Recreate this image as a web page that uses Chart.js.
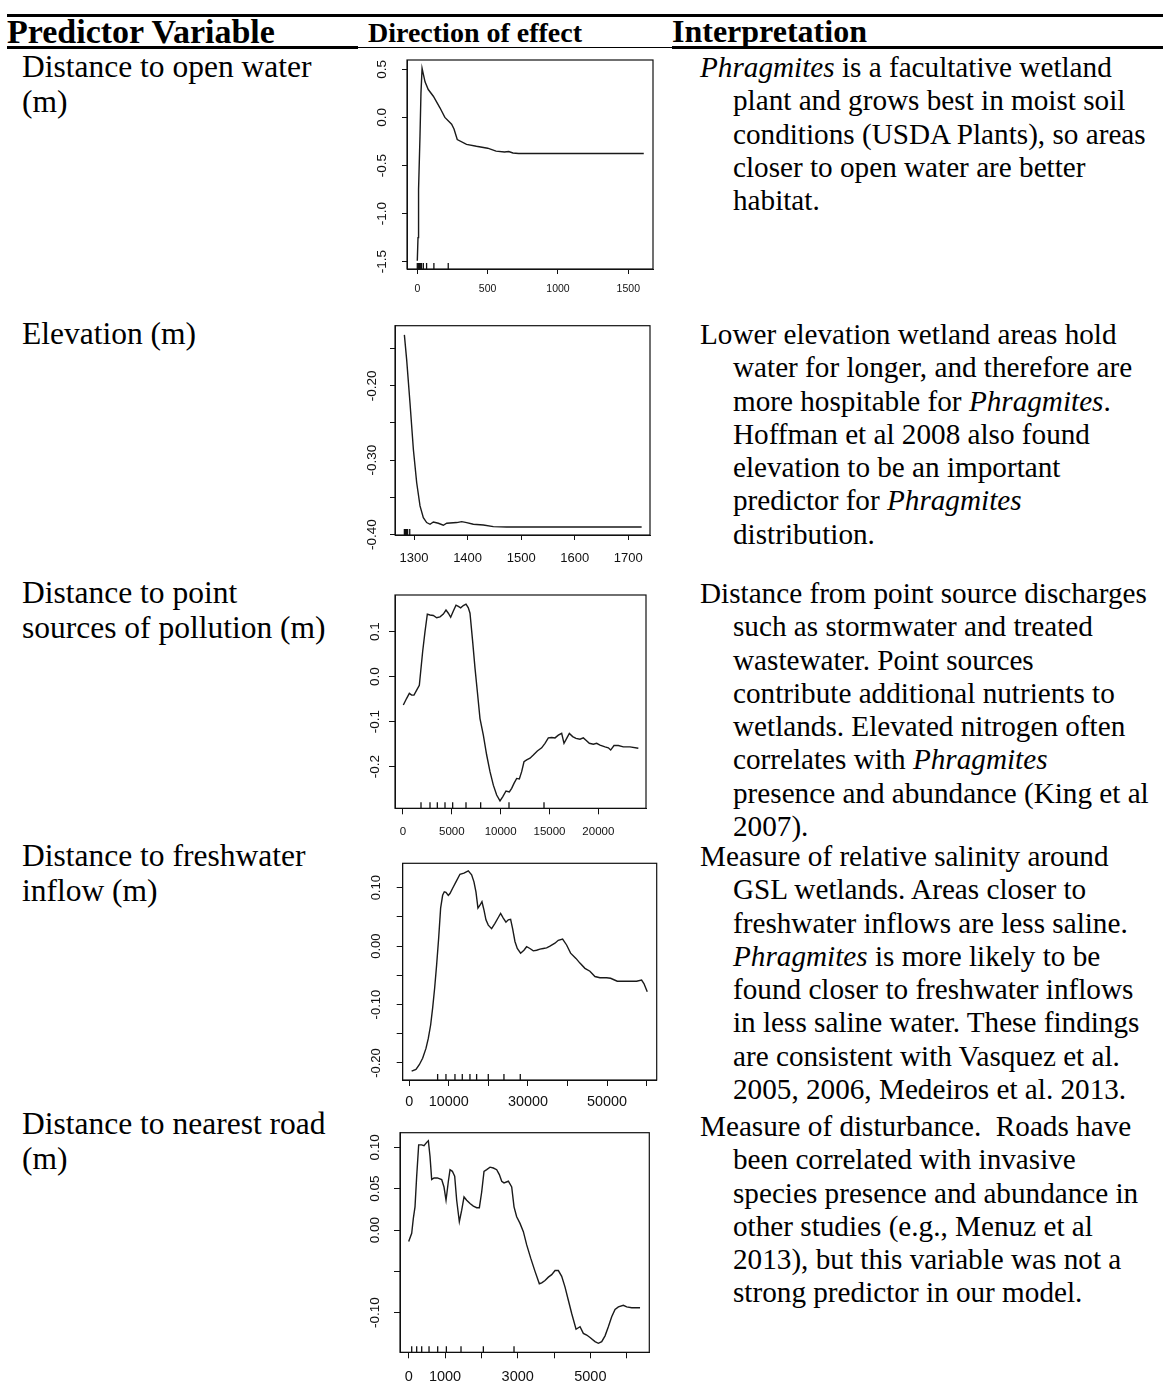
<!DOCTYPE html>
<html>
<head>
<meta charset="utf-8">
<script src="https://cdn.jsdelivr.net/npm/chart.js@4.4.1/dist/chart.umd.min.js"></script>
<style>
html, body { margin: 0; padding: 0; background: #fff; }
#page { position: relative; width: 1163px; height: 1384px; overflow: hidden;
        font-family: "Liberation Serif", "Times New Roman", serif; color: #000; }
.abs { position: absolute; white-space: nowrap; }
.hd { font-weight: bold; line-height: 1; }
.var { left: 22px; font-size: 31.5px; line-height: 34.5px; }
.txt { left: 700px; font-size: 29.2px; line-height: 33.3px; padding-left: 33px; text-indent: -33px; }
.rule { position: absolute; background: #000; }
canvas { position: absolute; }
</style>
</head>
<body>
<div id="page">
  <div class="rule" style="left:7px;top:14px;width:1156px;height:3px;"></div>
  <div class="abs hd" style="left:7px;top:15px;font-size:34px;">Predictor Variable</div>
  <div class="abs hd" style="left:368px;top:19px;font-size:28px;">Direction of effect</div>
  <div class="abs hd" style="left:672px;top:15px;font-size:32px;">Interpretation</div>
  <div class="rule" style="left:7px;top:46px;width:351px;height:3px;"></div>
  <div class="rule" style="left:358px;top:47px;width:314px;height:1px;"></div>
  <div class="rule" style="left:672px;top:46px;width:491px;height:3px;"></div>

  <div class="abs var" style="top:50px;">Distance to open water<br>(m)</div>
  <div class="abs var" style="top:317px;">Elevation (m)</div>
  <div class="abs var" style="top:576px;">Distance to point<br>sources of pollution (m)</div>
  <div class="abs var" style="top:839px;">Distance to freshwater<br>inflow (m)</div>
  <div class="abs var" style="top:1107px;">Distance to nearest road<br>(m)</div>

  <div class="abs txt" style="top:51px;"><i>Phragmites</i> is a facultative wetland<br>plant and grows best in moist soil<br>conditions (USDA Plants), so areas<br>closer to open water are better<br>habitat.</div>
  <div class="abs txt" style="top:318px;">Lower elevation wetland areas hold<br>water for longer, and therefore are<br>more hospitable for <i>Phragmites</i>.<br>Hoffman et al 2008 also found<br>elevation to be an important<br>predictor for <i>Phragmites</i><br>distribution.</div>
  <div class="abs txt" style="top:577px;">Distance from point source discharges<br>such as stormwater and treated<br>wastewater. Point sources<br>contribute additional nutrients to<br>wetlands. Elevated nitrogen often<br>correlates with <i>Phragmites</i><br>presence and abundance (King et al<br>2007).</div>
  <div class="abs txt" style="top:840px;">Measure of relative salinity around<br>GSL wetlands. Areas closer to<br>freshwater inflows are less saline.<br><i>Phragmites</i> is more likely to be<br>found closer to freshwater inflows<br>in less saline water. These findings<br>are consistent with Vasquez et al.<br>2005, 2006, Medeiros et al. 2013.</div>
  <div class="abs txt" style="top:1110px;">Measure of disturbance.&nbsp; Roads have<br>been correlated with invasive<br>species presence and abundance in<br>other studies (e.g., Menuz et al<br>2013), but this variable was not a<br>strong predictor in our model.</div>

  <canvas id="c-water"></canvas>
  <canvas id="c-elev"></canvas>
  <canvas id="c-point"></canvas>
  <canvas id="c-fresh"></canvas>
  <canvas id="c-road"></canvas>
</div>

<script>
// --- distance to open water (m)
const waterX = [0, 5, 9, 19, 26, 34, 55, 78, 114, 161, 196, 244, 261, 284, 350, 420, 500, 560, 620, 650, 680, 720, 1610];
const waterY = [-1.49, -1.25, -0.75, -0.20, 0.25, 0.51, 0.37, 0.29, 0.22, 0.10, 0.00, -0.07, -0.12, -0.23, -0.28, -0.30, -0.32, -0.35, -0.36, -0.355, -0.37, -0.375, -0.375];
const waterRug = [0, 5, 10, 15, 20, 25, 30, 43, 66, 118, 220];
const waterXTicks = [0, 500, 1000, 1500];
const waterXLabels = ['0', '500', '1000', '1500'];
const waterYTicks = [-1.5, -1.0, -0.5, 0.0, 0.5];
const waterYLabels = ['-1.5', '-1.0', '-0.5', '0.0', '0.5'];

// --- elevation (m)
const elevX = [1282, 1286.3, 1292.5, 1298.8, 1305, 1311.2, 1317.4, 1323.6, 1329.9, 1336.1, 1345.4, 1354.7, 1361, 1379.6, 1389, 1398.3, 1410.7, 1429.4, 1448.1, 1472.9, 1724.9];
const elevY = [-0.1317, -0.1652, -0.2232, -0.2857, -0.3303, -0.3615, -0.3772, -0.3838, -0.3861, -0.3830, -0.3847, -0.3874, -0.3847, -0.3838, -0.3825, -0.3838, -0.3861, -0.3870, -0.3892, -0.3897, -0.3897];
const elevRug = [1282, 1284, 1286, 1288, 1292];
const elevXTicks = [1300, 1400, 1500, 1600, 1700];
const elevXLabels = ['1300', '1400', '1500', '1600', '1700'];
const elevYTicks = [-0.40, -0.35, -0.30, -0.25, -0.20, -0.15];
const elevYLabels = ['-0.40', '', '-0.30', '', '-0.20', ''];

// --- distance to point sources of pollution (m)
const pointX = [34, 375, 648, 887, 1126, 1399, 1672, 1809, 2014, 2253, 2491, 2765, 3106, 3447, 3788, 4130, 4403, 4642, 4881, 5154, 5427, 5666, 5904, 6177, 6451, 6689, 6860, 7133, 7372, 7611, 7884, 8225, 8567, 8908, 9249, 9590, 9932, 10205, 10546, 10887, 11126, 11365, 11638, 11911, 12150, 12389, 12662, 13003, 13345, 13754, 14198, 14539, 14881, 15222, 15563, 15904, 16246, 16485, 16758, 17031, 17372, 17713, 18123, 18464, 18737, 19078, 19488, 19829, 20171, 20683, 21024, 21263, 21604, 22048, 22560, 23242, 24096];
const pointY = [-0.063, -0.048, -0.037, -0.041, -0.041, -0.030, -0.019, 0.011, 0.056, 0.100, 0.139, 0.137, 0.136, 0.131, 0.133, 0.139, 0.148, 0.141, 0.132, 0.146, 0.159, 0.156, 0.153, 0.158, 0.161, 0.153, 0.141, 0.078, 0.019, -0.033, -0.093, -0.130, -0.174, -0.211, -0.241, -0.263, -0.276, -0.267, -0.254, -0.256, -0.248, -0.237, -0.226, -0.227, -0.211, -0.189, -0.185, -0.181, -0.174, -0.165, -0.158, -0.148, -0.136, -0.135, -0.136, -0.130, -0.126, -0.148, -0.137, -0.126, -0.133, -0.137, -0.139, -0.136, -0.141, -0.148, -0.150, -0.148, -0.152, -0.156, -0.158, -0.163, -0.153, -0.153, -0.156, -0.156, -0.159];
const pointRug = [1843, 2765, 3515, 4300, 5085, 6450, 7952, 10853, 14437];
const pointXTicks = [0, 5000, 10000, 15000, 20000];
const pointXLabels = ['0', '5000', '10000', '15000', '20000'];
const pointYTicks = [-0.2, -0.1, 0.0, 0.1];
const pointYLabels = ['-0.2', '-0.1', '0.0', '0.1'];

// --- distance to freshwater inflow (m)
const freshX = [590, 1685, 2527, 3370, 4212, 4802, 5392, 5897, 6403, 6908, 7414, 7919, 8425, 8846, 9267, 9857, 10278, 10952, 11795, 12805, 13816, 14912, 15754, 16344, 16849, 17355, 17860, 18366, 18871, 19377, 19966, 20809, 21651, 22494, 23083, 23757, 24431, 25021, 25611, 26116, 26706, 27296, 28138, 28981, 29655, 30497, 31340, 32182, 33024, 33867, 34709, 35552, 36816, 37658, 38753, 39764, 40775, 42123, 43134, 44398, 45661, 46925, 48189, 49874, 50885, 52570, 54928, 57456, 58720, 59309, 60152];
const freshY = [-0.214, -0.211, -0.203, -0.192, -0.175, -0.158, -0.135, -0.106, -0.072, -0.032, 0.013, 0.065, 0.087, 0.093, 0.092, 0.087, 0.090, 0.099, 0.110, 0.123, 0.125, 0.129, 0.122, 0.110, 0.093, 0.065, 0.070, 0.076, 0.062, 0.045, 0.036, 0.030, 0.039, 0.049, 0.056, 0.048, 0.041, 0.045, 0.046, 0.030, 0.008, -0.004, -0.012, -0.007, -0.001, -0.004, -0.008, -0.007, -0.005, -0.004, -0.003, 0.000, 0.005, 0.010, 0.012, 0.002, -0.012, -0.021, -0.029, -0.038, -0.043, -0.052, -0.054, -0.054, -0.055, -0.060, -0.060, -0.060, -0.058, -0.064, -0.078];
const freshRug = [7161, 9267, 11542, 13395, 15333, 17018, 19966, 23926, 28054];
const freshXTicks = [0, 10000, 20000, 30000, 40000, 50000, 60000];
const freshXLabels = ['0', '10000', '', '30000', '', '50000', ''];
const freshYTicks = [-0.20, -0.15, -0.10, -0.05, 0.00, 0.05, 0.10];
const freshYLabels = ['-0.20', '', '-0.10', '', '0.00', '', '0.10'];

// --- distance to nearest road (m)
const roadX = [0, 83, 128, 174, 220, 275, 358, 422, 495, 541, 587, 633, 697, 789, 908, 972, 1028, 1092, 1138, 1202, 1266, 1321, 1394, 1459, 1523, 1596, 1688, 1780, 1872, 1945, 2009, 2073, 2147, 2239, 2330, 2422, 2495, 2560, 2624, 2743, 2835, 2899, 2972, 3064, 3156, 3248, 3358, 3477, 3596, 3661, 3752, 3844, 3936, 4028, 4119, 4211, 4303, 4394, 4486, 4606, 4716, 4807, 4899, 4991, 5128, 5220, 5312, 5404, 5495, 5587, 5679, 5771, 5908, 6000, 6138, 6367];
const roadY = [-0.014, -0.004, 0.014, 0.028, 0.065, 0.103, 0.103, 0.102, 0.106, 0.108, 0.089, 0.061, 0.063, 0.063, 0.061, 0.052, 0.036, 0.059, 0.073, 0.071, 0.065, 0.036, 0.010, 0.024, 0.040, 0.036, 0.032, 0.029, 0.027, 0.027, 0.046, 0.071, 0.073, 0.076, 0.075, 0.073, 0.067, 0.059, 0.057, 0.059, 0.052, 0.028, 0.016, 0.008, -0.002, -0.018, -0.034, -0.050, -0.065, -0.064, -0.061, -0.057, -0.054, -0.049, -0.049, -0.056, -0.069, -0.085, -0.101, -0.120, -0.117, -0.125, -0.127, -0.130, -0.135, -0.137, -0.135, -0.128, -0.117, -0.105, -0.096, -0.093, -0.091, -0.093, -0.094, -0.094];
const roadRug = [83, 220, 358, 560, 798, 1037, 1440, 2055, 2899];
const roadXTicks = [0, 1000, 2000, 3000, 4000, 5000, 6000];
const roadXLabels = ['0', '1000', '', '3000', '', '5000', ''];
const roadYTicks = [-0.10, -0.05, 0.00, 0.05, 0.10];
const roadYLabels = ['-0.10', '', '0.00', '0.05', '0.10'];

const TICK_FONT = "'Liberation Sans', Arial, sans-serif";

// frame around the plot region, like R's box()
const plotBox = {
    id: 'plotBox',
    afterDraw(chart) {
        const a = chart.chartArea;
        const ctx = chart.ctx;
        ctx.save();
        ctx.strokeStyle = '#111';
        ctx.lineWidth = 1.2;
        ctx.strokeRect(a.left, a.top, a.right - a.left, a.bottom - a.top);
        ctx.restore();
    }
};

function textWidth(labels, size) {
    let c = document.createElement('canvas').getContext('2d');
    c.font = size + 'px ' + TICK_FONT;
    return Math.max.apply(null, labels.map(l => c.measureText(l).width));
}

function drawPanel(id, p) {
    let canvas = document.getElementById(id);
    let box = p.box;
    let L = Math.round(box[0]) - 48;
    let T = Math.round(box[1]) - 28;
    let W = Math.ceil(box[2] - L + 30);
    let H = Math.ceil(box[3] - T + 38);
    canvas.width = W;
    canvas.height = H;
    canvas.style.left = L + 'px';
    canvas.style.top = T + 'px';
    canvas.style.width = W + 'px';
    canvas.style.height = H + 'px';

    let xPad = p.xOff - p.tick - p.xFont * 1.2 / 2;
    let yPad = p.yOff - p.tick - textWidth(p.yLabels, p.yFont) / 2;

    let axisGrid = {drawOnChartArea: false, drawTicks: true, tickLength: p.tick, color: '#111', lineWidth: 1};

    return new Chart(canvas.getContext('2d'), {
        type: 'scatter',
        data: {
            datasets: [{
                data: p.xs.map((x, i) => ({x: x, y: p.ys[i]})),
                showLine: true,
                borderColor: '#1a1a1a',
                borderWidth: 1.4,
                pointRadius: 0,
                tension: 0
            }, {
                data: p.rug.map(x => ({x: x, y: p.ylim[0]})),
                showLine: false,
                pointStyle: 'line',
                rotation: 90,
                pointRadius: 6,
                pointBorderWidth: 1.3,
                pointBorderColor: '#111',
                borderColor: '#111',
                clip: 0
            }]
        },
        options: {
            responsive: false,
            animation: false,
            devicePixelRatio: 1,
            layout: {padding: {left: 0, top: box[1] - T, right: L + W - box[2], bottom: 0}},
            plugins: {legend: {display: false}, tooltip: {enabled: false}},
            scales: {
                x: {
                    type: 'linear',
                    min: p.xlim[0],
                    max: p.xlim[1],
                    afterBuildTicks: s => { s.ticks = p.xTicks.map(v => ({value: v})); },
                    afterFit: s => { s.height = T + H - box[3]; },
                    grid: axisGrid,
                    border: {display: true, color: '#111'},
                    ticks: {
                        autoSkip: false, minRotation: 0, maxRotation: 0, padding: xPad,
                        color: '#111', font: {family: TICK_FONT, size: p.xFont},
                        callback: (v, i) => p.xLabels[i]
                    }
                },
                y: {
                    type: 'linear',
                    min: p.ylim[0],
                    max: p.ylim[1],
                    afterBuildTicks: s => { s.ticks = p.yTicks.map(v => ({value: v})); },
                    afterFit: s => { s.width = box[0] - L; },
                    grid: axisGrid,
                    border: {display: true, color: '#111'},
                    ticks: {
                        autoSkip: false, minRotation: 90, maxRotation: 90, crossAlign: 'center', padding: yPad,
                        color: '#111', font: {family: TICK_FONT, size: p.yFont},
                        callback: (v, i) => p.yLabels[i]
                    }
                }
            }
        },
        plugins: [plotBox]
    });
}

drawPanel('c-water', {
    box: [407, 60, 653, 269], xlim: [-73.2, 1675.6], ylim: [-1.576, 0.597],
    xs: waterX, ys: waterY, rug: waterRug,
    xTicks: waterXTicks, xLabels: waterXLabels, yTicks: waterYTicks, yLabels: waterYLabels,
    tick: 5, xFont: 10.5, yFont: 13.5, xOff: 20, yOff: 25
});

drawPanel('c-elev', {
    box: [395, 325.7, 650, 535], xlim: [1264.5, 1740.5], ylim: [-0.4005, -0.1193],
    xs: elevX, ys: elevY, rug: elevRug,
    xTicks: elevXTicks, xLabels: elevXLabels, yTicks: elevYTicks, yLabels: elevYLabels,
    tick: 5, xFont: 13, yFont: 13.5, xOff: 23, yOff: 23
});

drawPanel('c-point', {
    box: [395, 595, 646, 808.3], xlim: [-819, 24880], ylim: [-0.2924, 0.1815],
    xs: pointX, ys: pointY, rug: pointRug,
    xTicks: pointXTicks, xLabels: pointXLabels, yTicks: pointYTicks, yLabels: pointYLabels,
    tick: 6, xFont: 11.5, yFont: 13.5, xOff: 24, yOff: 20
});

drawPanel('c-fresh', {
    box: [402.7, 863.3, 656.7, 1080], xlim: [-1669, 62540], ylim: [-0.2291, 0.1418],
    xs: freshX, ys: freshY, rug: freshRug,
    xTicks: freshXTicks, xLabels: freshXLabels, yTicks: freshYTicks, yLabels: freshYLabels,
    tick: 6, xFont: 14.4, yFont: 13, xOff: 21.7, yOff: 26
});

drawPanel('c-road', {
    box: [400, 1132.7, 649.3, 1352.3], xlim: [-239, 6622], ylim: [-0.1479, 0.1177],
    xs: roadX, ys: roadY, rug: roadRug,
    xTicks: roadXTicks, xLabels: roadXLabels, yTicks: roadYTicks, yLabels: roadYLabels,
    tick: 6, xFont: 14.5, yFont: 13.5, xOff: 24.4, yOff: 25
});
</script>
</body>
</html>
